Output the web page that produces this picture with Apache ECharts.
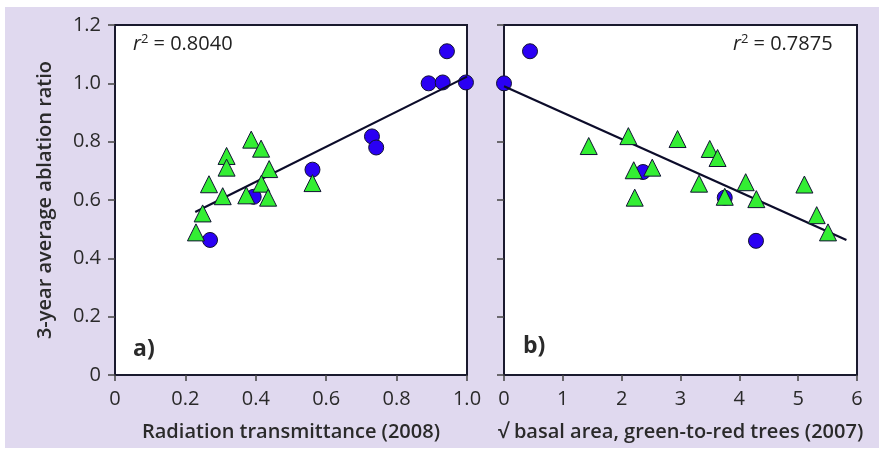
<!DOCTYPE html>
<html><head><meta charset="utf-8">
<script src="https://cdn.jsdelivr.net/npm/echarts@6/dist/echarts.min.js"></script>
<style>html,body{margin:0;padding:0;background:#fff}#c{width:879px;height:450px}</style>
</head><body><div id="c"></div>
<script>
// Panel a: radiation transmittance (2008)
var aCircles = [[0.943,1.110],[0.891,1.000],[0.931,1.003],[0.997,1.003],[0.730,0.818],[0.742,0.780],[0.561,0.704],[0.394,0.611],[0.270,0.463]];
var aTriangles = [[0.387,0.807],[0.415,0.776],[0.317,0.751],[0.317,0.711],[0.438,0.706],[0.267,0.654],[0.416,0.656],[0.561,0.658],[0.306,0.613],[0.373,0.616],[0.435,0.608],[0.249,0.554],[0.230,0.489]];
var aFit = [[0.228,0.559],[1.0,1.023]];
// Panel b: sqrt basal area, green-to-red trees (2007)
var bCircles = [[0.442,1.110],[0.0,1.000],[2.363,0.696],[3.752,0.608],[4.283,0.460]];
var bTriangles = [[1.44,0.785],[2.114,0.819],[2.95,0.809],[3.497,0.775],[3.63,0.744],[2.205,0.702],[2.52,0.711],[3.315,0.656],[4.108,0.661],[5.106,0.653],[2.222,0.608],[3.752,0.611],[4.289,0.603],[5.315,0.548],[5.507,0.489]];
var bFit = [[0.0,0.99],[5.82,0.463]];
var yTicks = ['0','0.2','0.4','0.6','0.8','1.0','1.2'];
var aXTicks = ['0','0.2','0.4','0.6','0.8','1.0'];
var bXTicks = ['0','1','2','3','4','5','6'];
var r2a = '0.8040', r2b = '0.7875';

var ink = '#1a1a2e';
var font = '"Open Sans",sans-serif';
function xAxis(idx, max, interval, labels, name){
  return {type:'value', gridIndex:idx, min:0, max:max, interval:interval,
    name:name, nameLocation:'middle', nameGap:47,
    nameTextStyle:{fontFamily:font, fontWeight:600, fontSize:20, color:'#2a2a2a'},
    axisLine:{show:true, onZero:false, lineStyle:{color:ink, width:2}},
    axisTick:{show:true, inside:false, length:6, lineStyle:{color:'#444', width:1.5}},
    axisLabel:{margin:14, fontFamily:font, fontSize:20, color:'#2a2a2a',
      formatter:function(v){ return labels[Math.round(v/interval)]; }},
    splitLine:{show:false}};
}
function yAxis(idx, showLabel){
  return {type:'value', gridIndex:idx, min:0, max:1.2, interval:0.2,
    name: showLabel ? '3-year average ablation ratio' : '', nameLocation:'middle', nameGap:60,
    nameTextStyle:{fontFamily:font, fontWeight:600, fontSize:20, color:'#2a2a2a'},
    axisLine:{show:true, onZero:false, lineStyle:{color:ink, width:2}},
    axisTick:{show:true, inside:false, length:7, lineStyle:{color:'#444', width:1.5}},
    axisLabel:{show:showLabel, margin:14, fontFamily:font, fontSize:20, color:'#2a2a2a',
      formatter:function(v){ return yTicks[Math.round(v/0.2)]; }},
    splitLine:{show:false}};
}
var circleStyle = {color:'#2a00f4', borderColor:'#111133', borderWidth:1, opacity:1};
var triStyle = {color:'#33ee33', borderColor:'#111133', borderWidth:1, opacity:1};
function sc(idx, data, sym, size, style, z){
  return {type:'scatter', xAxisIndex:idx, yAxisIndex:idx, data:data, symbol:sym, symbolSize:size, itemStyle:style, z:z, silent:true};
}
function fit(idx, data){
  return {type:'line', xAxisIndex:idx, yAxisIndex:idx, data:data, symbol:'none', lineStyle:{color:'#0c0c2a', width:2.2}, z:3, silent:true};
}
var rich = {i:{fontStyle:'italic', fontFamily:font, fontSize:20, fill:'#222'}, s:{fontFamily:font, fontSize:13, fill:'#222', verticalAlign:'top', padding:[0,0,10,0]}, n:{fontFamily:font, fontSize:20, fill:'#222'}};
var chart = echarts.init(document.getElementById('c'), null, {renderer:'canvas'});
chart.setOption({
  animation:false,
  backgroundColor:'#fff',
  graphic:[
    {type:'rect', shape:{x:5, y:7, width:874, height:441}, style:{fill:'#e0d9ef'}, z:-10, silent:true},
    {type:'text', left:133, top:33, z:50, style:{rich:rich, text:'{i|r}{s|2}{n| = '+r2a+'}'}},
    {type:'text', left:733, top:33, z:50, style:{rich:rich, text:'{i|r}{s|2}{n| = '+r2b+'}'}},
    {type:'text', left:133, top:338, z:50, style:{text:'a)', fontFamily:font, fontWeight:'bold', fontSize:23, fill:'#2a2a2a'}},
    {type:'text', left:523, top:335, z:50, style:{text:'b)', fontFamily:font, fontWeight:'bold', fontSize:23, fill:'#2a2a2a'}}
  ],
  grid:[
    {left:115, top:25, width:352, height:350, show:true, backgroundColor:'#fff', borderColor:ink, borderWidth:2},
    {left:504, top:25, width:353, height:350, show:true, backgroundColor:'#fff', borderColor:ink, borderWidth:2}
  ],
  xAxis:[xAxis(0,1.0,0.2,aXTicks,'Radiation transmittance (2008)'), xAxis(1,6,1,bXTicks,'\u221A basal area, green-to-red trees (2007)')],
  yAxis:[yAxis(0,true), yAxis(1,false)],
  series:[
    sc(0,aCircles,'circle',15,circleStyle,2), fit(0,aFit), sc(0,aTriangles,'triangle',17,triStyle,4),
    sc(1,bCircles,'circle',15,circleStyle,2), fit(1,bFit), sc(1,bTriangles,'triangle',17,triStyle,4)
  ]
});
</script></body></html>
